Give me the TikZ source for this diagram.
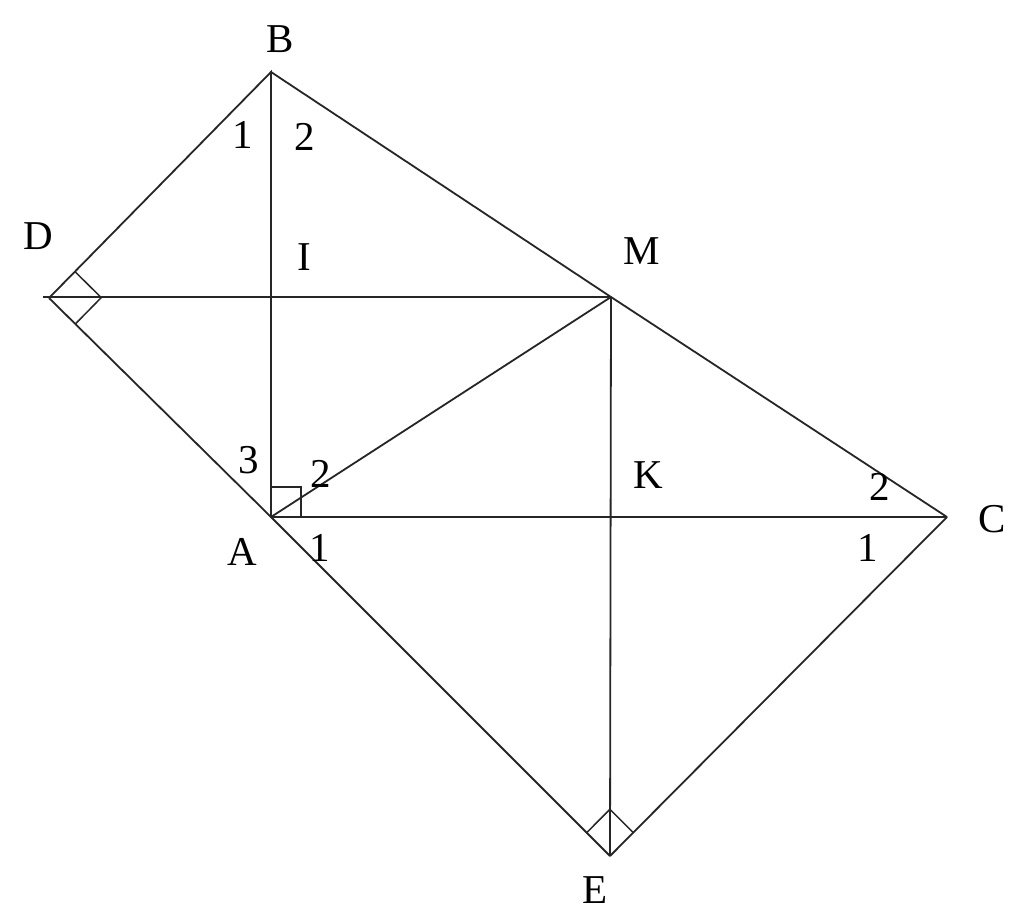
\documentclass[tikz,border=0pt]{standalone}
\usepackage{fontspec}
\setmainfont{Liberation Serif}
\usetikzlibrary{calc}
\begin{document}
\begin{tikzpicture}[x=1pt,y=-1pt,
  seg/.style={line width=1.8pt,black!85},
  rmark/.style={line width=1.5pt,black!85},
  lbl/.style={inner sep=0pt,font=\fontsize{41}{48}\selectfont}]
\useasboundingbox[fill=white] (0,0) rectangle (1024,920);
\coordinate (B) at (271,72);
\coordinate (A) at (271,517);
\coordinate (C) at (947,517);
\coordinate (M) at (611,297);
\coordinate (D) at (49,298);
\coordinate (E) at (610,856);
\coordinate (I) at (271,297);
\coordinate (K) at (611,517);
\coordinate (Dx) at (43,297);
% main segments
\draw[seg] (D) -- (B) -- (A);
\draw[seg] (B) -- (M) -- (C);
\draw[seg] (D) -- (A) -- (E);
\draw[seg] (Dx) -- (M);
\draw[seg] (A) -- (M);
\draw[seg] (M) -- (E);
\draw[seg] (A) -- (C);
\draw[seg] (C) -- (E);
% right angle marks
\draw[rmark] (271,487) -- (301,487) -- (301,517);
\draw[rmark] ($(D)!37pt!(B)$) -- ($(D)!37pt!(B)+(D)!37pt!(A)-(D)$) -- ($(D)!37pt!(A)$);
\draw[rmark] ($(E)!33pt!(A)$) -- ($(E)!33pt!(A)+(E)!33pt!(C)-(E)$) -- ($(E)!33pt!(C)$);
% labels
\node[lbl] (lB) at (280,39) {B};
\node[lbl] (lD) at (38,236) {D};
\node[lbl] (lI) at (304,257) {I};
\node[lbl] (lM) at (642,251) {M};
\node[lbl] (lK) at (648,475) {K};
\node[lbl] (lC) at (992,519) {C};
\node[lbl] (lA) at (242,552) {A};
\node[lbl] (lE) at (595,890) {E};
\node[lbl] (b1) at (243,135) {1};
\node[lbl] (b2) at (305,137) {2};
\node[lbl] (a3) at (249,460) {3};
\node[lbl] (a2) at (321,474) {2};
\node[lbl] (a1) at (320,548) {1};
\node[lbl] (c2) at (880,487) {2};
\node[lbl] (c1) at (868,548) {1};
\end{tikzpicture}
\end{document}
